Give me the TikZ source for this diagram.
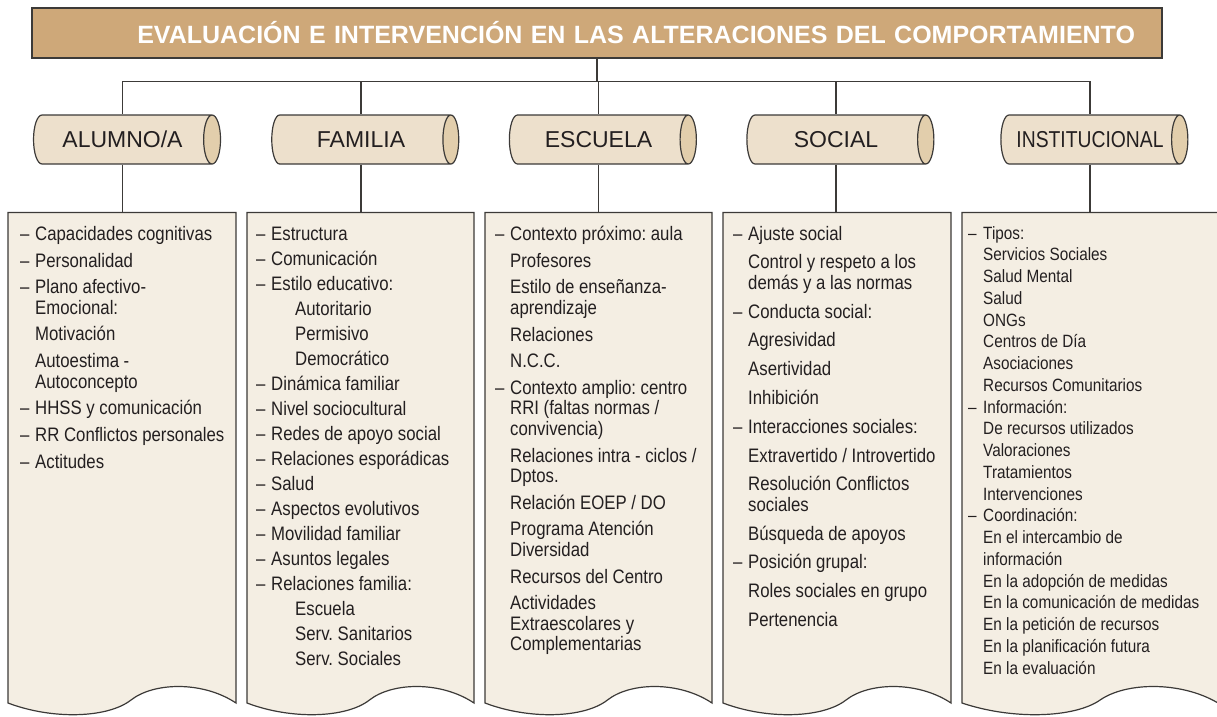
\documentclass[tikz,border=0pt]{standalone}
\usepackage{fontspec}
\usetikzlibrary{shapes.geometric}
\setmainfont{Liberation Sans}
\newfontfamily\condfont[FakeStretch=0.86]{Liberation Sans}
\newfontfamily\narrowfont[FakeStretch=0.84]{Liberation Sans}
\frenchspacing

\definecolor{titlefill}{RGB}{206,168,121}
\definecolor{hdrbody}{RGB}{237,224,204}
\definecolor{hdrend}{RGB}{226,206,172}
\definecolor{boxfill}{RGB}{244,238,227}
\definecolor{edge}{RGB}{60,58,56}
\definecolor{ink}{RGB}{35,31,32}

\newcommand\lidash{\makebox[15pt][l]{–}}
\newcommand\liind{\hspace*{15pt}}
\newcommand\lideep{\hspace*{39pt}}

\tikzset{
  link/.style={draw=edge, line width=1.2pt},
  titlebox/.style={draw=edge, line width=1.5pt, fill=titlefill,
    minimum width=1130pt, minimum height=50pt, text width=1076pt,
    align=right, inner xsep=27pt, inner ysep=0pt, text=white,
    font=\fontsize{25}{28}\selectfont\bfseries},
  header/.style={cylinder, draw=edge, line width=1.2pt,
    cylinder uses custom fill, cylinder body fill=hdrbody,
    cylinder end fill=hdrend, aspect=1, minimum height=187pt,
    minimum width=49pt, inner sep=0pt, text=ink,
    font=\fontsize{23}{26}\selectfont},
  boxarea/.style={rectangle, inner sep=0pt, outer sep=0pt, minimum height=490pt},
  boxline/.style={draw=edge, line width=1.2pt, fill=boxfill},
  listtext/.style={anchor=north west, inner sep=0pt, align=left, text=ink},
}

\begin{document}
\begin{tikzpicture}[x=1pt, y=-1pt]
    \useasboundingbox (0,0) rectangle (1217,716);
    \clip (0,0) rectangle (1217,716);

    % Titulo
    \node[titlebox] (title) at (597,33)
        {EVALUACIÓN E INTERVENCIÓN EN LAS ALTERACIONES DEL COMPORTAMIENTO};

    % Cabeceras
    \node[header] (hA) at (122.5,139.5) {ALUMNO/A};
    \node[header] (hB) at (361,139.5) {FAMILIA};
    \node[header] (hC) at (598.5,139.5) {ESCUELA};
    \node[header] (hD) at (836,139.5) {SOCIAL};
    \node[header, font=\narrowfont\fontsize{23}{26}\selectfont] (hE) at (1090,139.5) {INSTITUCIONAL};

    \draw[link] (title.south) -- ++(0,23) coordinate (bus);
    \foreach \h in {hA,hB,hC,hD,hE}
        \draw[link] (bus) -| (\h.north);

    % Cajas
    \foreach \b/\x/\w in {bA/8/228, bB/247/227, bC/485/227, bD/723/228, bE/962/256} {
        \node[boxarea, minimum width=\w pt, anchor=north west] (\b) at (\x,212.5) {};
        \begin{scope}[shift={(\x,0)}, xscale=\w/228]
            \path[boxline] (0,212.5) -- (228,212.5) -- (228,703)
                .. controls (195,681) and (146,682) .. (123,700)
                .. controls (100,718) and (45,720) .. (0,703) -- cycle;
        \end{scope}
    }
    \foreach \h/\b in {hA/bA, hB/bB, hC/bC, hD/bD, hE/bE}
        \draw[link] (\h.south) -- (\h.south |- \b.north);

    % Textos
    \node[listtext, font=\condfont\fontsize{19.5}{20.3}\selectfont] (tA) at (20,225.8) {%
        \strut\lidash Capacidades cognitivas\\[6.5pt]
        \lidash Personalidad\\[6.5pt]
        \lidash Plano afectivo-\\
        \liind Emocional:\\[6.5pt]
        \liind Motivación\\[6.5pt]
        \liind Autoestima -\\
        \liind Autoconcepto\\[6.5pt]
        \lidash HHSS y comunicación\\[6.5pt]
        \lidash RR Conflictos personales\\[6.5pt]
        \lidash Actitudes};

    \node[listtext, font=\condfont\fontsize{19.5}{25}\selectfont] (tB) at (256,222.5) {%
        \strut\lidash Estructura\\
        \lidash Comunicación\\
        \lidash Estilo educativo:\\
        \lideep Autoritario\\
        \lideep Permisivo\\
        \lideep Democrático\\
        \lidash Dinámica familiar\\
        \lidash Nivel sociocultural\\
        \lidash Redes de apoyo social\\
        \lidash Relaciones esporádicas\\
        \lidash Salud\\
        \lidash Aspectos evolutivos\\
        \lidash Movilidad familiar\\
        \lidash Asuntos legales\\
        \lidash Relaciones familia:\\
        \lideep Escuela\\
        \lideep Serv. Sanitarios\\
        \lideep Serv. Sociales};

    \node[listtext, font=\condfont\fontsize{19.5}{20.3}\selectfont] (tC) at (495,225.8) {%
        \strut\lidash Contexto próximo: aula\\[6.5pt]
        \liind Profesores\\[6.5pt]
        \liind Estilo de enseñanza-\\
        \liind aprendizaje\\[6.5pt]
        \liind Relaciones\\[6.5pt]
        \liind N.C.C.\\[6.5pt]
        \lidash Contexto amplio: centro\\
        \liind RRI (faltas normas /\\
        \liind convivencia)\\[6.5pt]
        \liind Relaciones intra - ciclos /\\
        \liind Dptos.\\[6.5pt]
        \liind Relación EOEP / DO\\[6.5pt]
        \liind Programa Atención\\
        \liind Diversidad\\[6.5pt]
        \liind Recursos del Centro\\[6.5pt]
        \liind Actividades\\
        \liind Extraescolares y\\
        \liind Complementarias};

    \node[listtext, font=\condfont\fontsize{19.5}{20.4}\selectfont] (tD) at (733,225.7) {%
        \strut\lidash Ajuste social\\[8.4pt]
        \liind Control y respeto a los\\
        \liind demás y a las normas\\[8.4pt]
        \lidash Conducta social:\\[8.4pt]
        \liind Agresividad\\[8.4pt]
        \liind Asertividad\\[8.4pt]
        \liind Inhibición\\[8.4pt]
        \lidash Interacciones sociales:\\[8.4pt]
        \liind Extravertido / Introvertido\\[8.4pt]
        \liind Resolución Conflictos\\
        \liind sociales\\[8.4pt]
        \liind Búsqueda de apoyos\\[8.4pt]
        \lidash Posición grupal:\\[8.4pt]
        \liind Roles sociales en grupo\\[8.4pt]
        \liind Pertenencia};

    \node[listtext, font=\condfont\fontsize{17.8}{21.75}\selectfont] (tE) at (968,223.8) {%
        \strut\lidash Tipos:\\
        \liind Servicios Sociales\\
        \liind Salud Mental\\
        \liind Salud\\
        \liind ONGs\\
        \liind Centros de Día\\
        \liind Asociaciones\\
        \liind Recursos Comunitarios\\
        \lidash Información:\\
        \liind De recursos utilizados\\
        \liind Valoraciones\\
        \liind Tratamientos\\
        \liind Intervenciones\\
        \lidash Coordinación:\\
        \liind En el intercambio de\\
        \liind información\\
        \liind En la adopción de medidas\\
        \liind En la comunicación de medidas\\
        \liind En la petición de recursos\\
        \liind En la planificación futura\\
        \liind En la evaluación};
\end{tikzpicture}
\end{document}
